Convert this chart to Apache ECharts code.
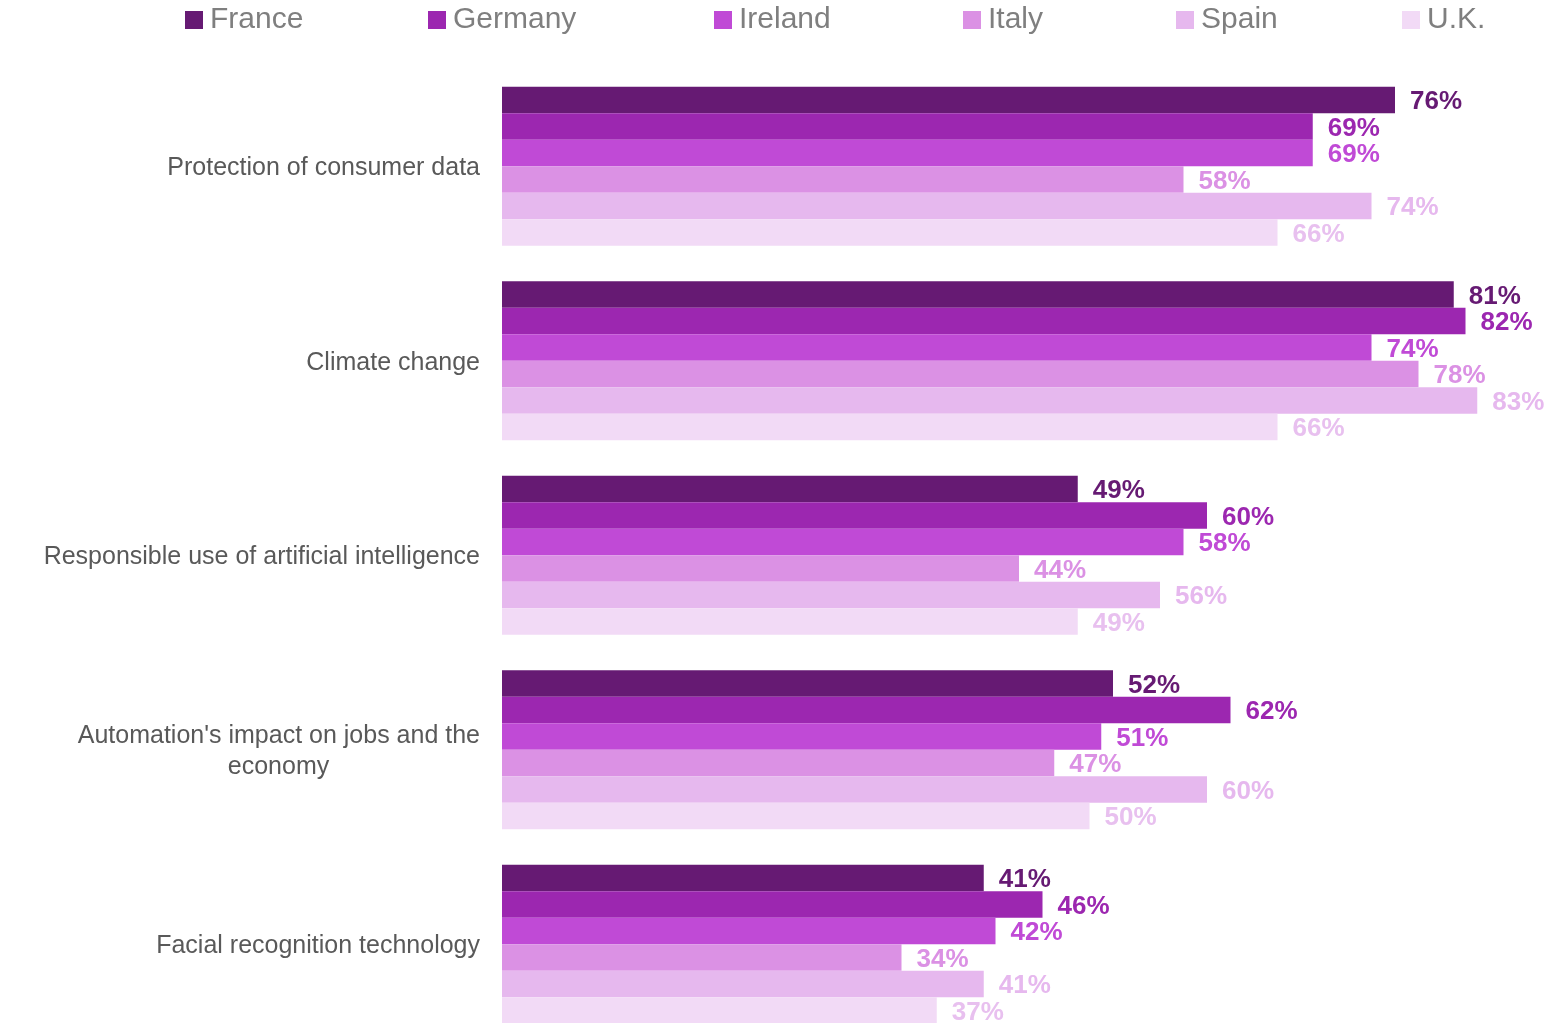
<!DOCTYPE html>
<html>
<head>
<meta charset="utf-8">
<script src="https://cdn.jsdelivr.net/npm/echarts@6/dist/echarts.min.js"></script>
<style>
html,body{margin:0;padding:0;background:#fff;}
#chart{width:1559px;height:1023px;}
</style>
</head>
<body>
<div id="chart"></div>
<script>
const categories = [
  "Protection of consumer data",
  "Climate change",
  "Responsible use of artificial intelligence",
  "Automation's impact on jobs and the economy",
  "Facial recognition technology"
];
const countries = ["France", "Germany", "Ireland", "Italy", "Spain", "U.K."];
const france  = [76, 81, 49, 52, 41];
const germany = [69, 82, 60, 62, 46];
const ireland = [69, 74, 58, 51, 42];
const italy   = [58, 78, 44, 47, 34];
const spain   = [74, 83, 56, 60, 41];
const uk      = [66, 66, 49, 50, 37];
const seriesValues = [france, germany, ireland, italy, spain, uk];

const barColors = ["#661a73", "#9c27b0", "#c04ad6", "#db91e4", "#e6b8ee", "#f2daf6"];
const labelColors = ["#661a73", "#9c27b0", "#c04ad6", "#db91e4", "#e6b8ee", "#e8c0ef"];
const legendLeft = [185, 428, 714, 963, 1176, 1402];

const FONT = 'Liberation Sans, Arial, sans-serif';
const AXIS_FS = 25;
const line1 = "Automation's impact on jobs and the";
const cnv = document.createElement('canvas').getContext('2d');
cnv.font = AXIS_FS + 'px ' + FONT;
const line1W = Math.ceil(cnv.measureText(line1).width);

const chart = echarts.init(document.getElementById('chart'));

const legends = countries.map((c, i) => ({
  data: [c],
  left: legendLeft[i],
  top: 5,
  padding: 0,
  itemWidth: 18,
  itemHeight: 18,
  icon: 'rect',
  itemGap: 0,
  textStyle: {fontFamily: FONT, fontSize: 30, color: '#7f7f7f', padding: [0,0,0,2]},
  selectedMode: false
}));

const series = countries.map((c, i) => ({
  name: c,
  type: 'bar',
  data: seriesValues[i],
  barGap: '0%',
  barCategoryGap: '18.25%',
  itemStyle: {color: barColors[i]},
  label: {
    show: true,
    position: 'right',
    distance: 15,
    offset: [0, 2],
    formatter: '{c}%',
    fontFamily: FONT,
    fontWeight: 'bold',
    fontSize: 26,
    color: labelColors[i]
  },
  clip: false,
  silent: true
}));

chart.setOption({
  animation: false,
  backgroundColor: '#ffffff',
  legend: legends,
  grid: {left: 502, top: 69, width: 1057.5, height: 972.5, containLabel: false, outerBoundsMode: 'none'},
  xAxis: {
    type: 'value', min: 0, max: 90,
    show: false
  },
  yAxis: {
    type: 'category',
    data: categories,
    inverse: true,
    axisLine: {show: false},
    axisTick: {show: false},
    axisLabel: {
      margin: 22,
      fontFamily: FONT,
      fontSize: AXIS_FS,
      color: '#595959',
      lineHeight: 31,
      padding: [4, 0, 0, 0],
      formatter: function (v) {
        if (v === "Automation's impact on jobs and the economy") {
          return "{a|" + line1 + "}\n{b|economy}";
        }
        return v;
      },
      rich: {
        a: {fontFamily: FONT, fontSize: AXIS_FS, color: '#595959', lineHeight: 31},
        b: {fontFamily: FONT, fontSize: AXIS_FS, color: '#595959', lineHeight: 31, width: line1W, align: 'center'}
      }
    }
  },
  series: series
});
</script>
</body>
</html>
